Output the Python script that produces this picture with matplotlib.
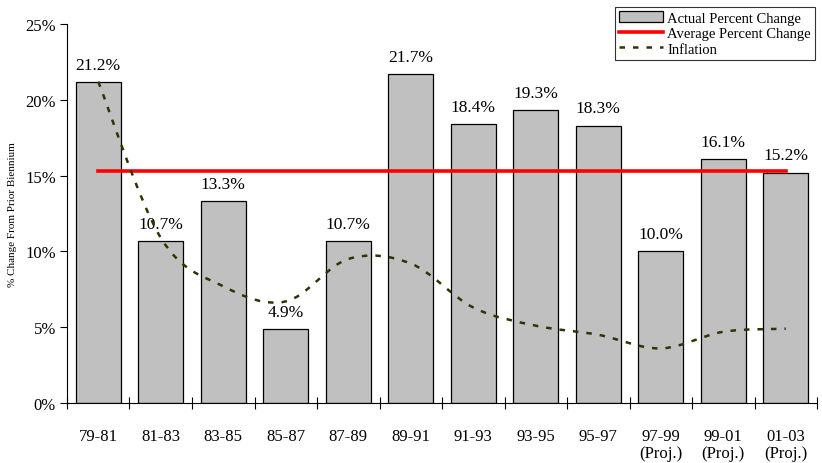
import matplotlib
matplotlib.use("Agg")
import matplotlib.pyplot as plt
import numpy as np
from matplotlib.path import Path
from matplotlib.patches import PathPatch, Patch
from matplotlib.lines import Line2D
from matplotlib.ticker import PercentFormatter, FixedLocator

plt.rcParams['font.family'] = ['Liberation Serif', 'DejaVu Serif']

periods = ["79-81", "81-83", "83-85", "85-87", "87-89", "89-91",
           "91-93", "93-95", "95-97", "97-99\n(Proj.)", "99-01\n(Proj.)", "01-03\n(Proj.)"]
actual = [21.2, 10.7, 13.3, 4.9, 10.7, 21.7, 18.4, 19.3, 18.3, 10.0, 16.1, 15.2]
average = 15.3
inflation = [21.2, 10.9, 7.7, 6.7, 9.5, 9.2, 6.3, 5.1, 4.5, 3.6, 4.7, 4.9]


def smooth_path(xs, ys):
    # Catmull-Rom style bezier, like Excel's smoothed line
    pts = np.column_stack([xs, ys])
    verts = [pts[0]]
    codes = [Path.MOVETO]
    n = len(pts)
    for i in range(n - 1):
        p0 = pts[i - 1] if i > 0 else pts[i]
        p1 = pts[i]
        p2 = pts[i + 1]
        p3 = pts[i + 2] if i + 2 < n else pts[i + 1]
        c1 = p1 + (p2 - p0) / 6.0
        c2 = p2 - (p3 - p1) / 6.0
        verts += [c1, c2, p2]
        codes += [Path.CURVE4] * 3
    return Path(verts, codes)


fig = plt.figure(figsize=(8.22, 4.64), dpi=100)
ax = fig.add_axes([0.0815, 0.1293, 0.9125, 0.8168])

x = np.arange(len(periods))
ax.bar(x, actual, width=0.72, color="#c0c0c0", edgecolor="black", linewidth=0.9, zorder=2)
for xi, v in zip(x, actual):
    ax.text(xi, v + 0.6, f"{v:.1f}%", ha="center", va="bottom", fontsize=12.5)

ax.plot([x[0], x[-1]], [average, average], color="#ff0000", linewidth=2.6, zorder=3)

path = smooth_path(x.astype(float), np.array(inflation))
ax.add_patch(PathPatch(path, facecolor="none", edgecolor="#333300", linewidth=1.8,
                       linestyle=(0, (2.2, 3.2)), zorder=4))

ax.set_xlim(-0.5, len(periods) - 0.5)
ax.set_ylim(0, 25)
ax.yaxis.set_major_locator(FixedLocator([0, 5, 10, 15, 20, 25]))
ax.yaxis.set_major_formatter(PercentFormatter(decimals=0))
ax.tick_params(axis="y", direction="out", length=5, width=0.8, labelsize=12, pad=3)

ax.set_xticks(x)
ax.set_xticklabels(periods, fontsize=12, va="top", linespacing=1.12)
ax.tick_params(axis="x", which="major", length=0, pad=18)
ax.set_xticks(np.arange(len(periods) + 1) - 0.5, minor=True)
ax.tick_params(axis="x", which="minor", direction="inout", length=8, width=0.8)

for s in ["top", "right"]:
    ax.spines[s].set_visible(False)
ax.spines["left"].set_linewidth(0.8)
ax.spines["bottom"].set_linewidth(0.8)

ax.set_ylabel("% Change From Prior Biennium", fontsize=8, labelpad=6)

handles = [Patch(facecolor="#c0c0c0", edgecolor="black", linewidth=0.9),
           Line2D([], [], color="#ff0000", linewidth=2.6),
           Line2D([], [], color="#333300", linewidth=1.8, linestyle=(0, (2.2, 3.2)))]
labels = ["Actual Percent Change", "Average Percent Change", "Inflation"]
leg = fig.legend(handles, labels, loc="upper left", bbox_to_anchor=(0.748, 0.983),
                 fontsize=10.5, frameon=True, fancybox=False, edgecolor="black",
                 borderpad=0.3, labelspacing=0.12, handlelength=3.0, handletextpad=0.3,
                 handleheight=0.8, borderaxespad=0)
leg.get_frame().set_linewidth(0.8)

fig.savefig("out.png", dpi=100)
